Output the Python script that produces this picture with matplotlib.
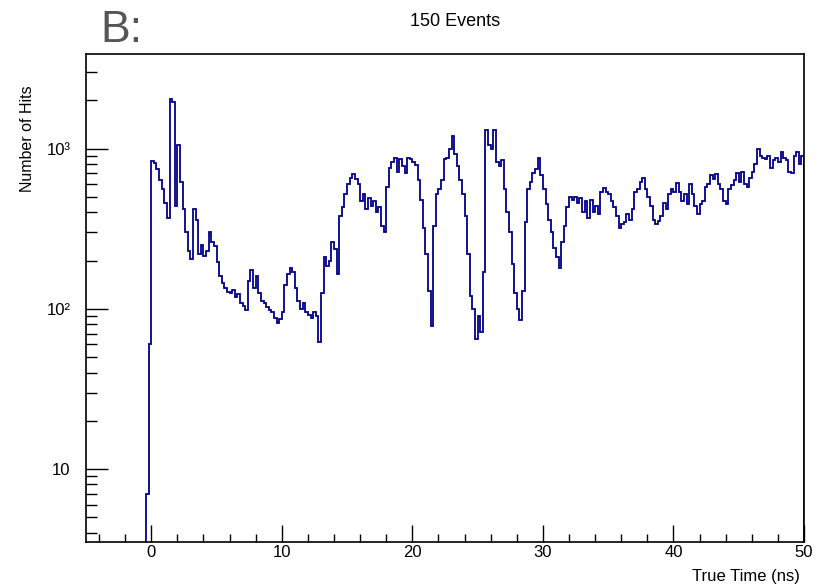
import numpy as np
import matplotlib.pyplot as plt
from matplotlib.ticker import MultipleLocator, LogLocator, FuncFormatter, NullFormatter

plt.rcParams['font.family'] = ['Liberation Sans', 'DejaVu Sans']

# Histogram settings
bin_width = 0.2   # ns
t_start = -0.4    # ns, left edge of first filled bin

# Hits per 0.2 ns bin
pre_hits = [7, 60]          # -0.4 .. 0 ns
hits = [
    840, 810, 750, 640, 560, 460, 370, 2050, 1950, 440,     # 0-2 ns
    1050, 620, 420, 300, 230, 205, 420, 360, 220, 250,      # 2-4
    215, 230, 300, 260, 245, 195, 160, 145, 135, 128,       # 4-6
    125, 132, 118, 124, 108, 104, 98, 150, 175, 135,        # 6-8
    160, 125, 112, 108, 102, 98, 95, 88, 82, 86,            # 8-10
    95, 140, 165, 180, 170, 135, 112, 100, 108, 95,         # 10-12
    92, 88, 95, 90, 62, 125, 210, 185, 200, 260,            # 12-14
    235, 165, 380, 430, 520, 600, 660, 690, 650, 600,       # 14-16
    470, 520, 420, 490, 440, 470, 400, 430, 330, 300,       # 16-18
    580, 760, 820, 880, 720, 860, 780, 700, 880, 860,       # 18-20
    820, 790, 640, 480, 320, 220, 130, 78, 330, 520,        # 20-22
    560, 640, 860, 880, 1000, 1200, 920, 780, 640, 520,     # 22-24
    380, 220, 120, 100, 65, 90, 72, 170, 1300, 1050,        # 24-26
    1000, 1300, 820, 780, 850, 560, 400, 300, 190, 125,     # 26-28
    100, 85, 130, 350, 560, 620, 700, 750, 880, 680,        # 28-30
    560, 450, 360, 300, 240, 210, 180, 260, 330, 430,       # 30-32
    500, 480, 500, 460, 490, 400, 470, 370, 480, 400,       # 32-34
    440, 390, 540, 570, 540, 520, 470, 430, 380, 320,       # 34-36
    340, 350, 390, 360, 420, 540, 560, 620, 660, 560,       # 36-38
    500, 440, 360, 340, 355, 380, 460, 420, 520, 560,       # 38-40
    540, 610, 540, 470, 520, 450, 600, 520, 440, 390,       # 40-42
    450, 470, 580, 600, 680, 650, 690, 600, 560, 470,       # 42-44
    450, 560, 590, 640, 700, 620, 720, 600, 580, 660,       # 44-46
    720, 800, 1000, 900, 880, 860, 900, 760, 850, 880,      # 46-48
    830, 950, 880, 850, 720, 700, 900, 950, 800, 900,       # 48-50
]

counts = np.array(pre_hits + hits, dtype=float)
edges = t_start + bin_width * np.arange(len(counts) + 1)

fig = plt.figure(figsize=(8.27, 5.85), dpi=100)
ax = fig.add_axes([86/827, 43/585, 718/827, 488/585])

ax.stairs(counts, edges, baseline=1, color='#000088', lw=1.3)

ax.set_yscale('log')
ax.set_xlim(-5, 50)
ax.set_ylim(3.5, 3900)

# ROOT-like ticks: inside, only bottom and left
ax.xaxis.set_major_locator(MultipleLocator(10))
ax.xaxis.set_minor_locator(MultipleLocator(2))
ax.yaxis.set_major_locator(LogLocator(base=10))
ax.yaxis.set_minor_locator(LogLocator(base=10, subs=np.arange(2, 10)))
ax.yaxis.set_minor_formatter(NullFormatter())

def ylab(v, pos):
    return {10: '10', 100: '10²', 1000: '10³'}.get(int(round(v)), '')

ax.yaxis.set_major_formatter(FuncFormatter(ylab))

ax.tick_params(which='both', direction='in', top=False, right=False,
               labelsize=12, width=1.0, color='black')
ax.tick_params(axis='y', which='major', length=16, pad=11)
ax.tick_params(axis='y', which='minor', length=8)
ax.tick_params(axis='x', which='major', length=12, pad=2)
ax.tick_params(axis='x', which='minor', length=6)

for s in ax.spines.values():
    s.set_linewidth(1.2)

fig.text(100/827, 1 - 42/585, 'B:', fontsize=32, color='#555555', va='baseline')
fig.text(455/827, 1 - 26/585, '150 Events', fontsize=13, ha='center', va='baseline')
fig.text(800/827, 1 - 581/585, 'True Time (ns)', fontsize=12, ha='right', va='baseline')
fig.text(28/827, 1 - 85/585, 'Number of Hits', fontsize=11.5, rotation=90,
         ha='center', va='top')

fig.savefig('out.png', dpi=100)
